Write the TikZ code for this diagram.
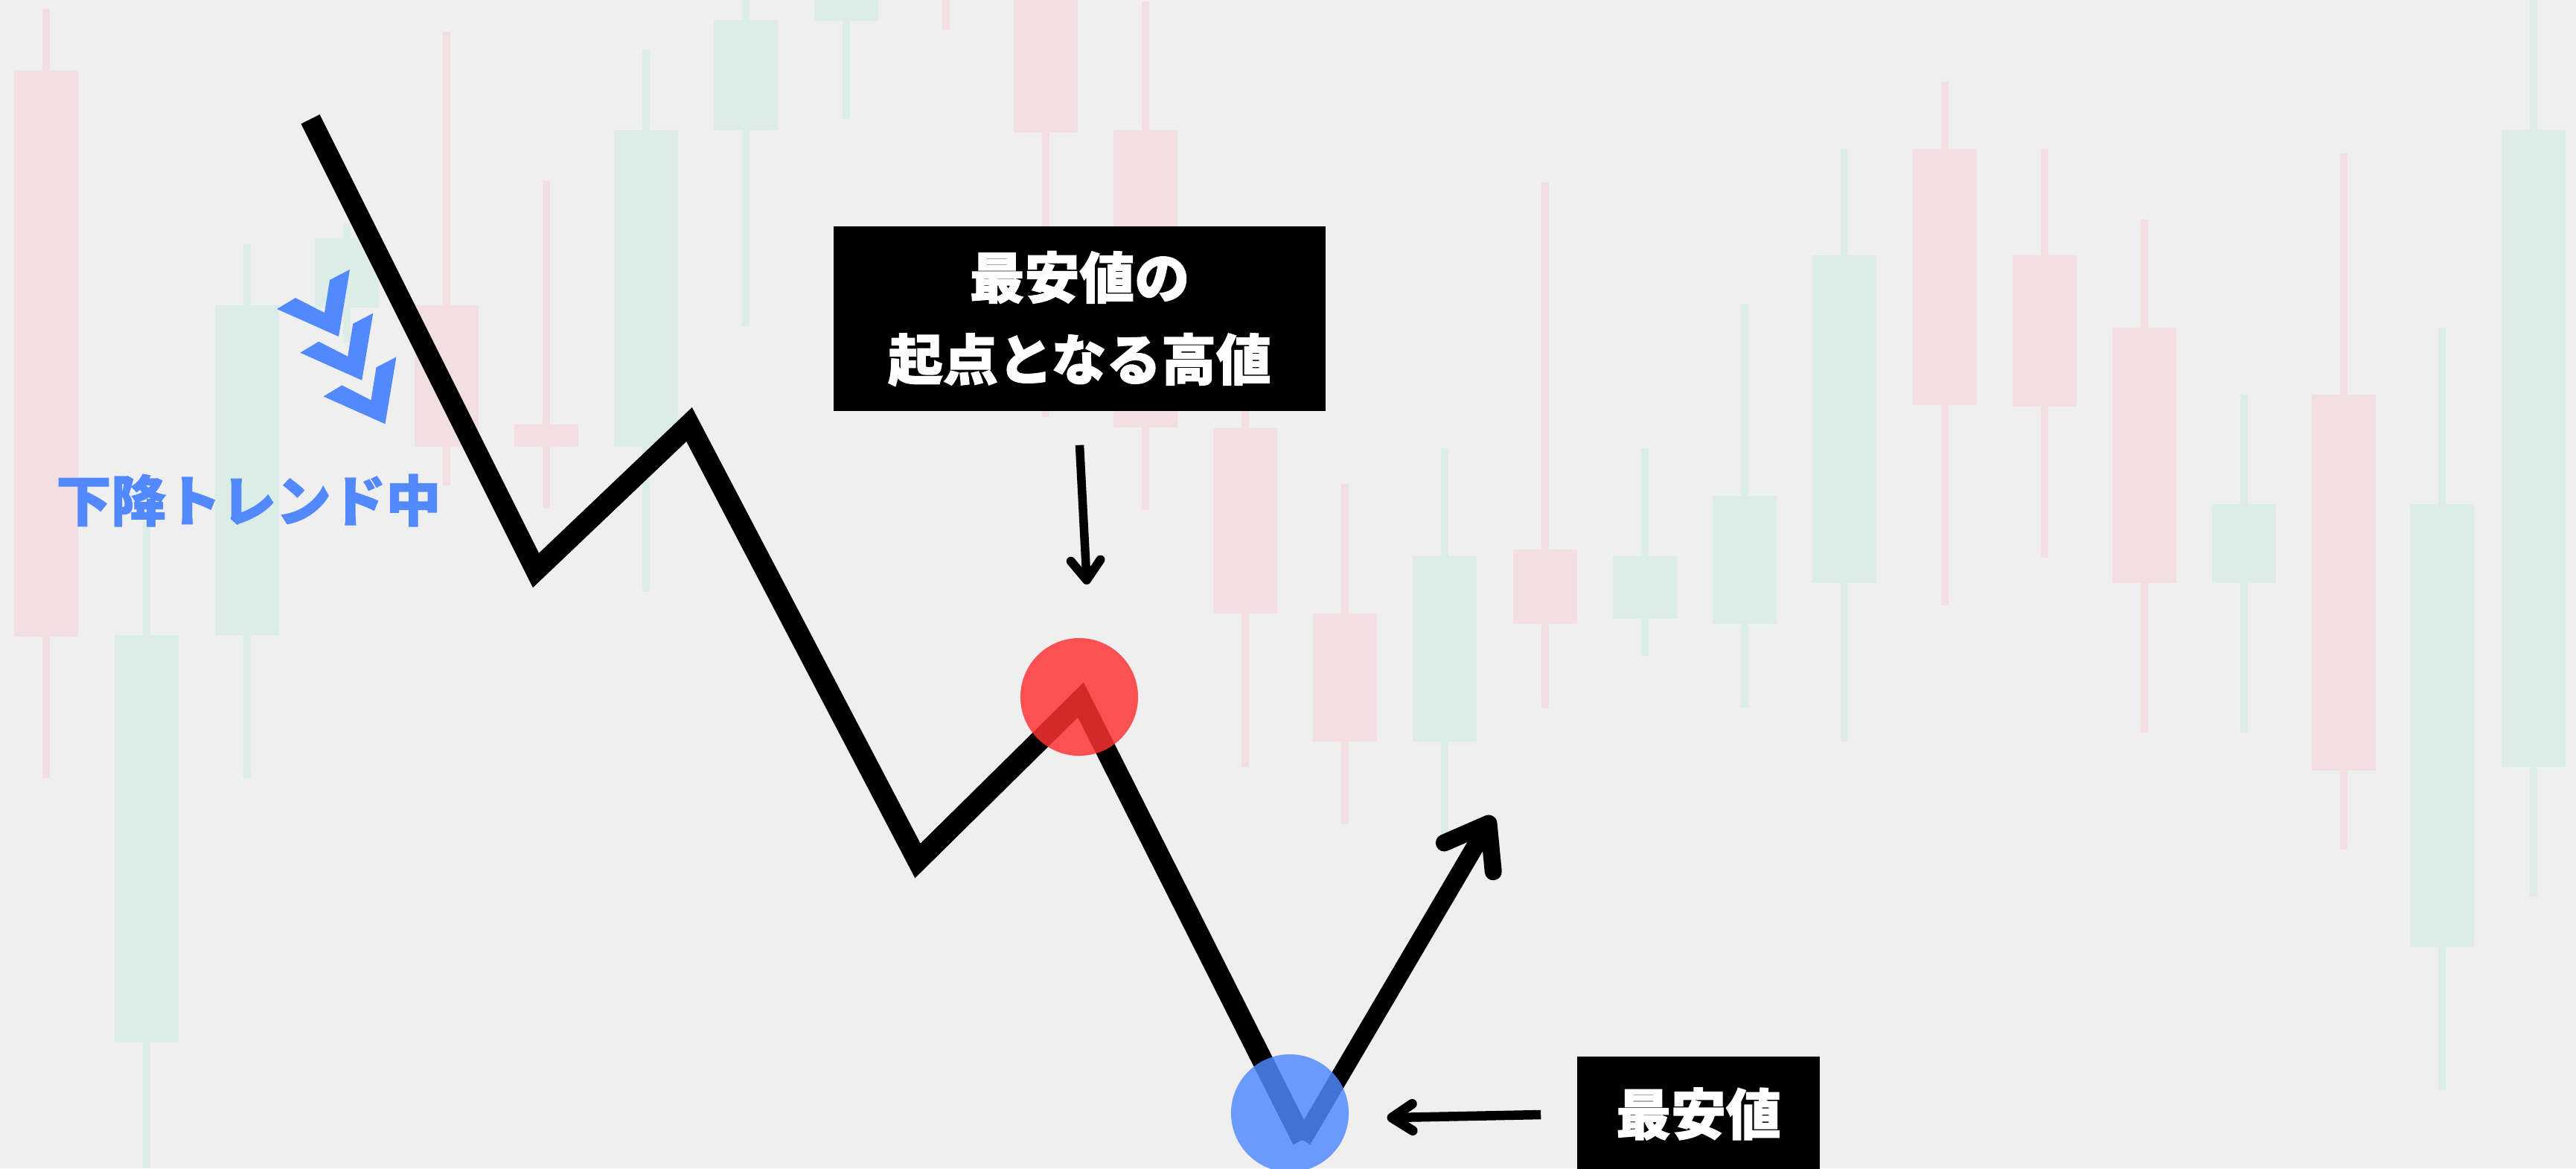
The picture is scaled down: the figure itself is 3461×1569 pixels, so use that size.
\documentclass[tikz,border=0pt]{standalone}
\usepackage{fontspec}
\newfontfamily\jp{Noto Sans CJK JP}[BoldFeatures={FakeBold=1.6}]
\usetikzlibrary{calc}
\definecolor{bgpaper}{RGB}{239,239,240}
\definecolor{cred}{RGB}{243,222,225}
\definecolor{cgreen}{RGB}{219,237,230}
\definecolor{tblue}{RGB}{82,137,255}
\definecolor{dotred}{RGB}{254,50,50}
\definecolor{dotblue}{RGB}{80,138,255}
% xleft, bodytop, bodybottom, wicktop, wickbottom, colour
\newcommand{\mycandle}[6]{%
  \fill[#6] ({#1+38},#4) rectangle ({#1+48},#5);
  \fill[#6] (#1,#2) rectangle ({#1+86},#3);
}
\begin{document}
\begin{tikzpicture}[x=0.01cm,y=-0.01cm,
  trendline/.style={line width=2.8mm, line join=miter, black},
  bigarrow/.style={line width=2.4mm, black},
  headline/.style={black, line cap=round, line join=round},
  labelbox/.style={fill=black, text=white, inner sep=0pt, align=center,
    font=\jp\bfseries\fontsize{21}{31.3}\selectfont},
  dot/.style={circle, inner sep=0pt, minimum size=1.58cm, fill opacity=0.83},
  chevron/.style={fill=tblue}
]
\useasboundingbox (0,0) rectangle (3461,1569);
\clip (0,0) rectangle (3461,1569);
\fill[bgpaper] (0,0) rectangle (3461,1569);

% background candlesticks
\mycandle{19}{95}{855}{12}{1045}{cred}
\mycandle{154}{853}{1400}{700}{1569}{cgreen}
\mycandle{289}{410}{853}{328}{1045}{cgreen}
\mycandle{423}{320}{413}{300}{460}{cgreen}
\mycandle{557}{410}{600}{43}{652}{cred}
\mycandle{691}{570}{600}{243}{683}{cred}
\mycandle{825}{175}{600}{67}{795}{cgreen}
\mycandle{959}{27}{175}{0}{438}{cgreen}
\mycandle{1094}{-10}{28}{0}{160}{cgreen}
\mycandle{1228}{-10}{-5}{-10}{40}{cred}
\mycandle{1362}{-10}{178}{0}{560}{cred}
\mycandle{1496}{175}{574}{2}{685}{cred}
\mycandle{1630}{575}{824}{530}{1030}{cred}
\mycandle{1764}{824}{996}{650}{1107}{cred}
\mycandle{1898}{747}{996}{602}{1145}{cgreen}
\mycandle{2033}{738}{838}{245}{951}{cred}
\mycandle{2167}{747}{831}{602}{881}{cgreen}
\mycandle{2301}{666}{838}{408}{951}{cgreen}
\mycandle{2435}{343}{783}{200}{996}{cgreen}
\mycandle{2570}{200}{544}{110}{813}{cred}
\mycandle{2704}{343}{546}{200}{749}{cred}
\mycandle{2838}{440}{783}{295}{984}{cred}
\mycandle{2972}{677}{783}{530}{984}{cgreen}
\mycandle{3106}{530}{1035}{206}{1141}{cred}
\mycandle{3238}{677}{1272}{440}{1464}{cgreen}
\mycandle{3361}{174}{1030}{0}{1204}{cgreen}

% down-trend chevrons
\foreach \s in {0,1,2}{
  \fill[chevron, shift={({31.25*\s},{58.7*\s})}]
    (372,415) -- (397,400) -- (436,420) -- (443,376) -- (470,362) -- (455,452) -- cycle;
}
\node[font=\jp\bfseries\fontsize{21}{25}\selectfont, text=tblue, inner sep=0pt] (trend) at (334,672) {下降トレンド中};

% price path
\coordinate (p0) at (417,160);
\coordinate (p1) at (720,766);
\coordinate (p2) at (926,570);
\coordinate (p3) at (1233,1156);
\coordinate (p4) at (1452,940);
\coordinate (p5) at (1750,1531);
\coordinate (up) at (2000,1106);
\draw[trendline] (p0) -- (p1) -- (p2) -- (p3) -- (p4) -- (p5);
\draw[bigarrow] (p5) -- (up);
\draw[headline, line width=2.3mm] ($(up)!0.65cm!36:(p5)$) -- (up) -- ($(up)!0.65cm!-36:(p5)$);

% highlighted points
\node[dot, fill=dotred] (peak) at (1450,936) {};
\node[dot, fill=dotblue] (low) at (1733,1495) {};

% labels
\node[labelbox, minimum width=6.61cm, minimum height=2.48cm] (box1) at (1450.5,428) {最安値の\\起点となる高値};
\node[labelbox, minimum width=3.26cm, minimum height=1.54cm] (box2) at (2282,1496) {最安値};

% pointer arrows
\coordinate (vs) at ($(box1.south)+(0,45)$);
\coordinate (ve) at (1460,779);
\draw[line width=1.15mm] (vs) -- (ve);
\draw[headline, line width=1.2mm] ($(ve)!0.33cm!37:(vs)$) -- (ve) -- ($(ve)!0.33cm!-37:(vs)$);

\coordinate (hs) at ($(box2.west)+(-48,1)$);
\coordinate (he) at (1870,1501);
\draw[line width=1.25mm] (hs) -- (he);
\draw[headline, line width=1.3mm] ($(he)!0.33cm!33:(hs)$) -- (he) -- ($(he)!0.33cm!-33:(hs)$);
\end{tikzpicture}
\end{document}
